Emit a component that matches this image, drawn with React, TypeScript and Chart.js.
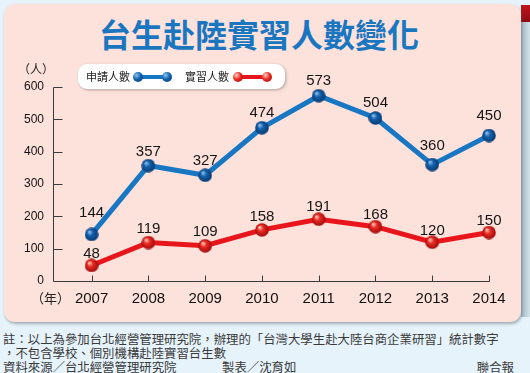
import React, { useEffect, useRef } from 'react';
import { Chart, registerables } from 'chart.js';

Chart.register(...registerables);

// ---- data ----
const years = [2007, 2008, 2009, 2010, 2011, 2012, 2013, 2014];
const applicants = [144, 357, 327, 474, 573, 504, 360, 450];
const interns = [48, 119, 109, 158, 191, 168, 120, 150];
const yTickValues = [0, 100, 200, 300, 400, 500, 600];
const seriesNames = ['申請人數', '實習人數'];
const titleText = '台生赴陸實習人數變化';
const yUnit = '（人）';
const xUnit = '（年）';
const noteLine1 = '註：以上為參加台北經營管理研究院，辦理的「台灣大學生赴大陸台商企業研習」統計數字';
const noteLine2 = '，不包含學校、個別機構赴陸實習台生數';
const sourceText = '資料來源／台北經營管理研究院';
const makerText = '製表／沈育如';
const publisherText = '聯合報';

// label lift above each point (px), kept apart from the data
const blueLift = [23, 15, 16, 16, 16, 16, 20, 21];
const redLift = [13, 15, 15, 14, 14, 13, 13, 13];

const BLUE = '#1877c2';
const RED = '#e8161c';
const CJK = '"Noto Sans CJK TC", "Noto Sans", sans-serif';
const NUM = '"Liberation Sans", Arial, sans-serif';

function makeSphere(size: number, light: string, base: string, dark: string) {
  const c = document.createElement('canvas');
  c.width = size;
  c.height = size;
  const g = c.getContext('2d')!;
  const r = size / 2;
  const grad = g.createRadialGradient(r * 0.65, r * 0.6, r * 0.05, r, r, r);
  grad.addColorStop(0, light);
  grad.addColorStop(0.4, base);
  grad.addColorStop(1, dark);
  g.fillStyle = grad;
  g.beginPath();
  g.arc(r, r, r - 0.2, 0, Math.PI * 2);
  g.fill();
  return c;
}

const axisPlugin = {
  id: 'customAxes',
  beforeDatasetsDraw(chart: any) {
    const { ctx, chartArea, scales } = chart;
    const x = scales.x;
    const y = scales.y;
    ctx.save();
    ctx.strokeStyle = '#3a3a3a';
    ctx.lineWidth = 1;
    ctx.beginPath();
    const left = Math.round(chartArea.left) + 0.5;
    const bottom = Math.round(chartArea.bottom) + 0.5;
    ctx.moveTo(left, Math.round(y.getPixelForValue(600)) + 0.5);
    ctx.lineTo(left, bottom);
    ctx.lineTo(Math.round(x.getPixelForValue(years[years.length - 1])) + 0.5, bottom);
    yTickValues.forEach((v) => {
      if (v === 0) return;
      const py = Math.round(y.getPixelForValue(v)) + 0.5;
      ctx.moveTo(left, py);
      ctx.lineTo(left + 9, py);
    });
    years.forEach((v) => {
      const px = Math.round(x.getPixelForValue(v)) + 0.5;
      ctx.moveTo(px, bottom);
      ctx.lineTo(px, bottom - 6);
    });
    ctx.stroke();
    ctx.restore();
  },
};

const valueLabelPlugin = {
  id: 'valueLabels',
  afterDatasetsDraw(chart: any) {
    const { ctx } = chart;
    ctx.save();
    ctx.font = `15px ${NUM}`;
    ctx.fillStyle = '#151515';
    ctx.textAlign = 'center';
    ctx.textBaseline = 'alphabetic';
    const sets = [
      { vals: applicants, lift: blueLift },
      { vals: interns, lift: redLift },
    ];
    sets.forEach((s, di) => {
      const meta = chart.getDatasetMeta(di);
      meta.data.forEach((pt: any, i: number) => {
        ctx.fillText(String(s.vals[i]), pt.x, pt.y - s.lift[i] + 5.4);
      });
    });
    ctx.restore();
  },
};

function LegendBall({ color, light, dark, left }: { color: string; light: string; dark: string; left: number }) {
  return (
    <div
      style={{
        position: 'absolute',
        left,
        top: 7.5,
        width: 10,
        height: 10,
        borderRadius: '50%',
        background: `radial-gradient(circle at 35% 32%, ${light} 0%, ${color} 45%, ${dark} 100%)`,
      }}
    />
  );
}

export default function App() {
  const canvasRef = useRef<HTMLCanvasElement | null>(null);

  useEffect(() => {
    document.body.style.margin = '0';
    const blueSphere = makeSphere(14, '#8cc4f0', '#1461ad', '#08376e');
    const redSphere = makeSphere(14, '#ffd0c4', '#ea2a22', '#9c0b0b');
    const chart = new Chart(canvasRef.current!, {
      type: 'line',
      data: {
        datasets: [
          {
            label: seriesNames[0],
            data: years.map((x, i) => ({ x, y: applicants[i] })),
            borderColor: BLUE,
            backgroundColor: BLUE,
            borderWidth: 5,
            pointStyle: blueSphere as any,
            pointRadius: 7,
            tension: 0,
            clip: false as any,
          },
          {
            label: seriesNames[1],
            data: years.map((x, i) => ({ x, y: interns[i] })),
            borderColor: RED,
            backgroundColor: RED,
            borderWidth: 5,
            pointStyle: redSphere as any,
            pointRadius: 7,
            tension: 0,
            clip: false as any,
          },
        ],
      },
      options: {
        animation: false,
        responsive: false,
        maintainAspectRatio: false,
        layout: { padding: { left: 0, right: 41, top: 87, bottom: 19 } },
        plugins: {
          legend: { display: false },
          tooltip: { enabled: false },
          title: { display: false },
        },
        scales: {
          x: {
            type: 'linear',
            min: 2006.32,
            max: 2014,
            afterBuildTicks: (s: any) => {
              s.ticks = years.map((v) => ({ value: v }));
            },
            afterFit: (s: any) => {
              s.height = 30;
            },
            ticks: {
              autoSkip: false,
              maxRotation: 0,
              padding: 9,
              color: '#111',
              font: { family: NUM, size: 15 },
              callback: (v: any) => String(v),
            },
            grid: { display: false, drawTicks: false },
            border: { display: false },
          },
          y: {
            min: 0,
            max: 600,
            afterBuildTicks: (s: any) => {
              s.ticks = yTickValues.map((v) => ({ value: v }));
            },
            afterFit: (s: any) => {
              s.width = 53;
            },
            ticks: {
              padding: 9,
              color: '#111',
              font: { family: NUM, size: 12 },
              callback: (v: any) => String(v),
            },
            grid: { display: false, drawTicks: false },
            border: { display: false },
          },
        },
      } as any,
      plugins: [axisPlugin, valueLabelPlugin],
    });
    return () => chart.destroy();
  }, []);

  return (
    <div
      style={{
        position: 'fixed',
        left: 0,
        top: 0,
        width: 530,
        height: 373,
        overflow: 'hidden',
        background: '#e6f3fa',
        fontFamily: CJK,
      }}
    >
      {/* right side strip */}
      <div
        style={{
          position: 'absolute',
          left: 521,
          top: 5,
          width: 9,
          height: 312,
          background: 'linear-gradient(to right, #9fb6c2, #d5e3ea)',
        }}
      />
      <div
        style={{
          position: 'absolute',
          left: 521,
          top: 5,
          width: 9,
          height: 17,
          background: 'linear-gradient(to bottom, #c0141c, #8e0c12)',
        }}
      />
      {/* pink panel */}
      <div
        style={{
          position: 'absolute',
          left: 4,
          top: 4,
          width: 517,
          height: 318,
          background: '#fde2dc',
          borderRadius: 11,
          boxShadow: '1px 2px 3px rgba(80,90,100,0.45)',
        }}
      />
      {/* title */}
      <div
        style={{
          position: 'absolute',
          left: 0,
          top: 17,
          width: 518,
          textAlign: 'center',
          fontSize: 32,
          lineHeight: '32px',
          fontWeight: 700,
          color: '#1b76c0',
          whiteSpace: 'nowrap',
        }}
      >
        {titleText}
      </div>
      <canvas
        ref={canvasRef}
        width={530}
        height={330}
        style={{ position: 'absolute', left: 0, top: 0, width: 530, height: 330 }}
      />
      {/* unit labels */}
      <div style={{ position: 'absolute', left: 18, top: 62, fontSize: 12, lineHeight: '14px', color: '#222' }}>
        {yUnit}
      </div>
      <div style={{ position: 'absolute', left: 31, top: 290, fontSize: 13, lineHeight: '16px', color: '#222' }}>
        {xUnit}
      </div>
      {/* legend */}
      <div
        style={{
          position: 'absolute',
          left: 78,
          top: 64,
          width: 207,
          height: 25,
          background: '#ffffff',
          borderRadius: 9,
          boxShadow: '1px 1px 3px rgba(0,0,0,0.3)',
        }}
      >
        <div style={{ position: 'absolute', left: 8, top: 5, fontSize: 11, lineHeight: '15px', color: '#222', whiteSpace: 'nowrap' }}>
          {seriesNames[0]}
        </div>
        <div style={{ position: 'absolute', left: 58, top: 10.5, width: 32, height: 4, background: BLUE }} />
        <LegendBall color="#1461ad" light="#8cc4f0" dark="#08376e" left={55} />
        <LegendBall color="#1461ad" light="#8cc4f0" dark="#08376e" left={84} />
        <div style={{ position: 'absolute', left: 107, top: 5, fontSize: 11, lineHeight: '15px', color: '#222', whiteSpace: 'nowrap' }}>
          {seriesNames[1]}
        </div>
        <div style={{ position: 'absolute', left: 158, top: 10.5, width: 32, height: 4, background: RED }} />
        <LegendBall color="#ea2a22" light="#ffd0c4" dark="#9c0b0b" left={155} />
        <LegendBall color="#ea2a22" light="#ffd0c4" dark="#9c0b0b" left={184} />
      </div>
      {/* notes */}
      <div style={{ position: 'absolute', left: 3, top: 332, fontSize: 12.4, lineHeight: '14px', color: '#3a3a3a', whiteSpace: 'nowrap' }}>
        {noteLine1}
      </div>
      <div style={{ position: 'absolute', left: 3, top: 346, fontSize: 12.4, lineHeight: '14px', color: '#3a3a3a', whiteSpace: 'nowrap' }}>
        {noteLine2}
      </div>
      <div style={{ position: 'absolute', left: 3, top: 360, fontSize: 12.4, lineHeight: '14px', color: '#3a3a3a', whiteSpace: 'nowrap' }}>
        {sourceText}
      </div>
      <div style={{ position: 'absolute', left: 222, top: 360, fontSize: 12.4, lineHeight: '14px', color: '#3a3a3a', whiteSpace: 'nowrap' }}>
        {makerText}
      </div>
      <div style={{ position: 'absolute', right: 16, top: 360, fontSize: 12.4, lineHeight: '14px', color: '#3a3a3a', whiteSpace: 'nowrap' }}>
        {publisherText}
      </div>
    </div>
  );
}
